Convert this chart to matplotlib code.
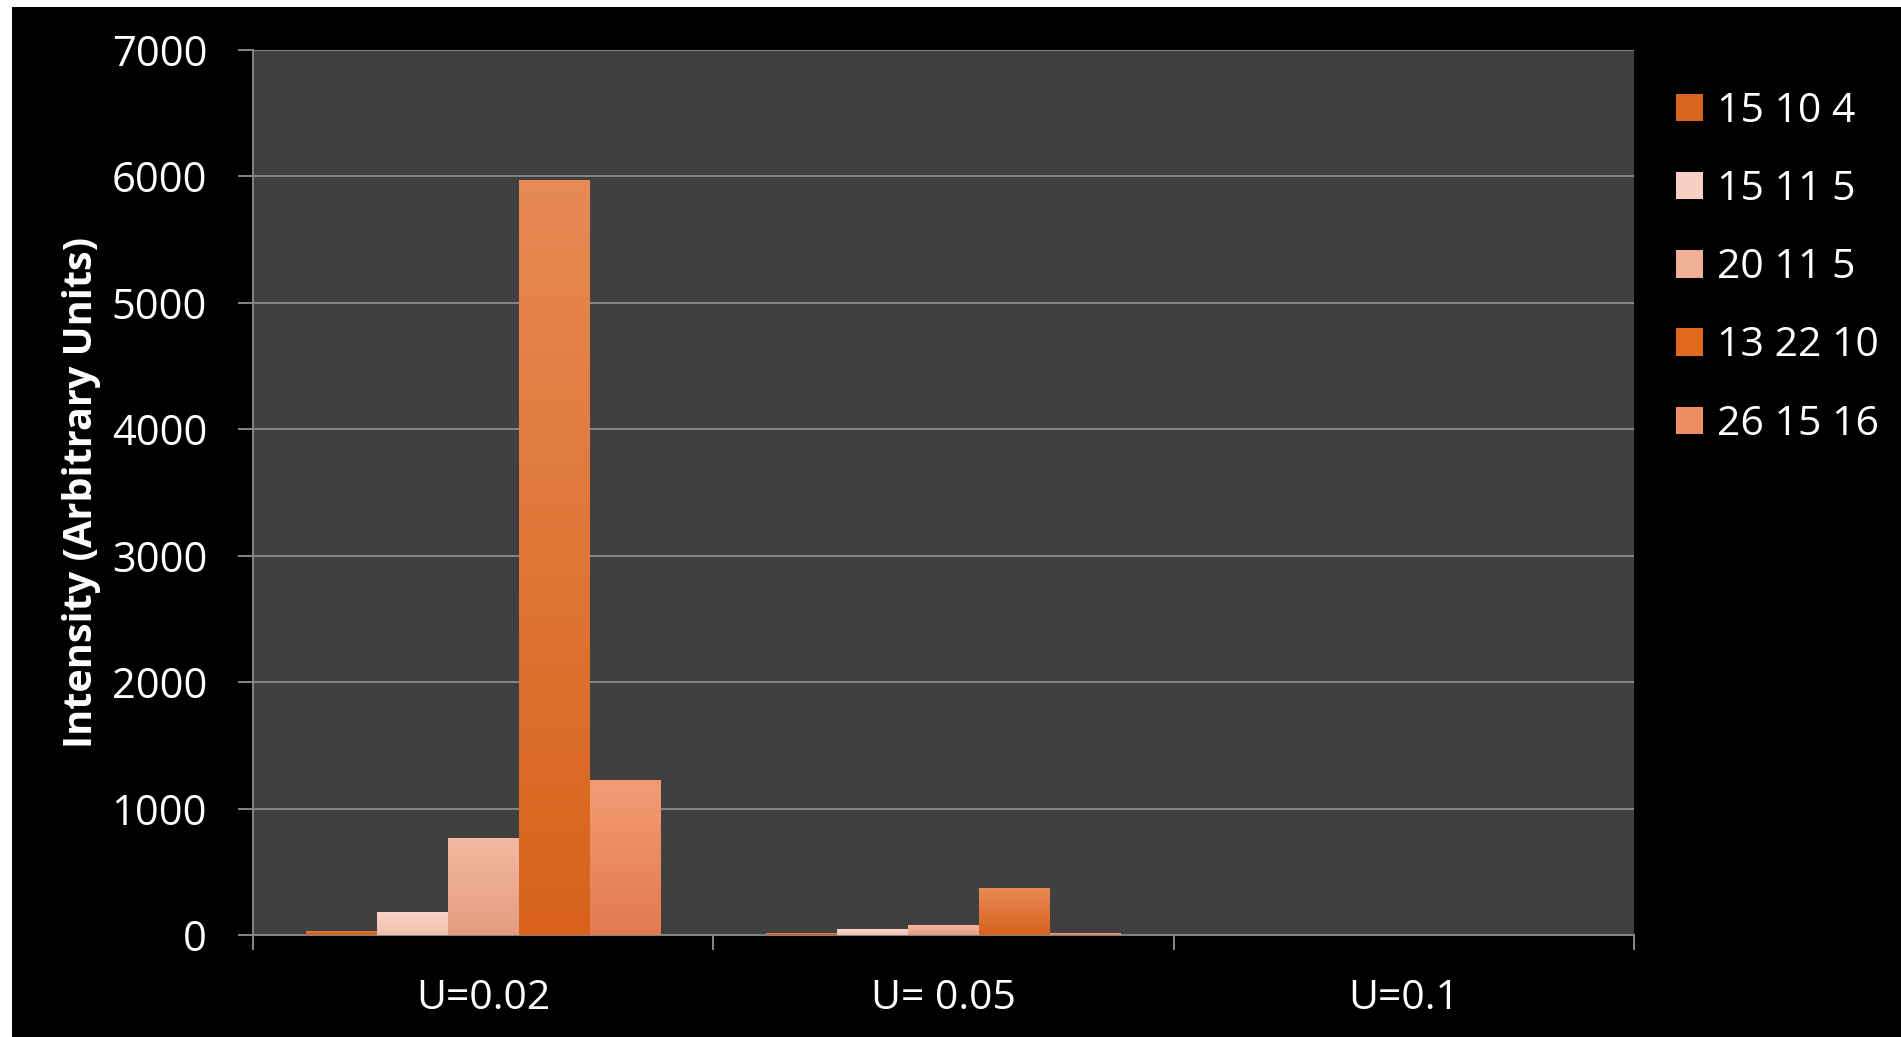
import numpy as np
import matplotlib.pyplot as plt
from matplotlib.patches import Rectangle
from matplotlib.colors import LinearSegmentedColormap

plt.rcParams['font.family'] = ['Open Sans', 'DejaVu Sans']

# Data
categories = ["U=0.02", "U= 0.05", "U=0.1"]
series_names = ["15 10 4", "15 11 5", "20 11 5", "13 22 10", "26 15 16"]
s_15_10_4 = [32, 14, 2]
s_15_11_5 = [182, 45, 3]
s_20_11_5 = [767, 77, 3]
s_13_22_10 = [5975, 369, 3]
s_26_15_16 = [1226, 14, 2]
series_values = [s_15_10_4, s_15_11_5, s_20_11_5, s_13_22_10, s_26_15_16]
colors = ["#D6661C", "#F8CFC0", "#F2B096", "#E26A1C", "#EE8F62"]
# top / bottom shades for the gradient fill
grad_top = ["#D98048", "#FAD6C8", "#F5B8A0", "#E88A55", "#F39C74"]
grad_bot = ["#D45E14", "#F0C0AE", "#E39C80", "#D8621A", "#E27A50"]

fig = plt.figure(figsize=(19.01, 10.37), dpi=100, facecolor="white")
# black slide background with thin white strip at top/left
fig.patches.append(Rectangle((12 / 1901, 0), 1, 1 - 7 / 1037, transform=fig.transFigure,
                             facecolor="black", edgecolor="none", zorder=-10))

ax = fig.add_axes([253 / 1901, 1 - 935 / 1037, (1634 - 253) / 1901, (935 - 50) / 1037])
ax.set_facecolor("#404040")

x = np.arange(len(categories))
width = 0.154
handles = []
grad = np.linspace(1, 0, 100).reshape(-1, 1)
for i, (name, vals, c) in enumerate(zip(series_names, series_values, colors)):
    b = ax.bar(x + (i - 2) * width, vals, width, color=c, label=name, zorder=3)
    handles.append(b)
    cmap = LinearSegmentedColormap.from_list("g%d" % i, [grad_bot[i], grad_top[i]])
    for p in b.patches:
        x0, y0 = p.get_x(), p.get_y()
        im = ax.imshow(grad, extent=[x0, x0 + p.get_width(), y0, y0 + p.get_height()],
                       aspect="auto", cmap=cmap, vmin=0, vmax=1, zorder=3.5,
                       interpolation="bilinear")
        im.set_clip_path(p)

ax.set_xlim(-0.5, len(categories) - 0.5)
ax.set_ylim(0, 7000)
ax.set_aspect("auto")
ax.set_yticks(np.arange(0, 7001, 1000))
ax.yaxis.grid(True, color="#868686", linewidth=1.4, zorder=1)
ax.set_axisbelow(True)

grey = "#868686"
for side in ["top", "right"]:
    ax.spines[side].set_visible(False)
for side in ["left", "bottom"]:
    ax.spines[side].set_color(grey)
    ax.spines[side].set_linewidth(1.4)

ax.set_xticks(x)
ax.set_xticklabels(categories)
ax.set_xticks(np.arange(-0.5, len(categories), 1), minor=True)
ax.tick_params(axis="x", which="major", length=0, pad=31, labelsize=29.5, labelcolor="white")
ax.tick_params(axis="x", which="minor", length=11, width=1.4, color=grey)
ax.tick_params(axis="y", length=11, width=1.4, color=grey, pad=22, labelsize=30,
               labelcolor="white")

ax.set_ylabel("Intensity (Arbitrary Units)", fontsize=28.5, fontweight="bold", color="white")
ax.yaxis.set_label_coords(-0.110, 0.5)

fig.legend(handles=handles, loc="upper left", bbox_to_anchor=(1660 / 1901, 1 - 75 / 1037),
           frameon=False, fontsize=29.5, labelcolor="white", handlelength=0.65,
           handleheight=0.65, handletextpad=0.35, labelspacing=0.92, borderaxespad=0)

fig.savefig("out.png", dpi=100, facecolor=fig.get_facecolor())
